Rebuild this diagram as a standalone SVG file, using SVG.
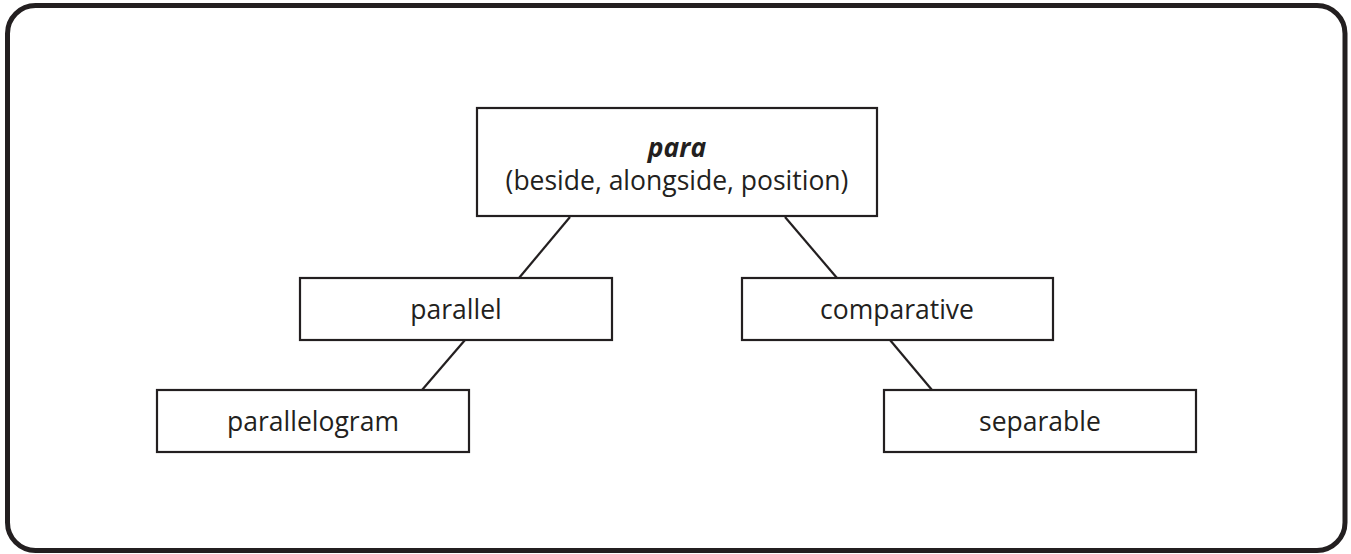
<svg xmlns="http://www.w3.org/2000/svg" width="1351" height="554" viewBox="0 0 1351 554">
<style>
.box{fill:#fff;stroke:#231f20;stroke-width:2.2}
.lbl{font-family:"Open Sans","Noto Sans",sans-serif;font-size:26.5px;fill:#231f20;text-anchor:middle}
.b{font-weight:bold;font-style:italic}
.conn line{stroke:#231f20;stroke-width:2.2}
</style>
<rect x="7.5" y="5.5" width="1337.5" height="545" rx="28" ry="28" fill="#fff" stroke="#231f20" stroke-width="5"/>
<g class="conn">
<line x1="570" y1="217" x2="519" y2="278"/>
<line x1="785" y1="217" x2="837" y2="278"/>
<line x1="465" y1="340" x2="422" y2="390"/>
<line x1="890" y1="340" x2="932" y2="390"/>
</g>
<g id="para"><rect class="box" x="477" y="108" width="400" height="108"/>
<text class="lbl b" x="677" y="157">para</text>
<text class="lbl" x="677" y="190">(beside, alongside, position)</text></g>
<g id="parallel"><rect class="box" x="300" y="278" width="312" height="62"/>
<text class="lbl" x="456" y="319">parallel</text></g>
<g id="comparative"><rect class="box" x="742" y="278" width="311" height="62"/>
<text class="lbl" x="897" y="319">comparative</text></g>
<g id="parallelogram"><rect class="box" x="157" y="390" width="312" height="62"/>
<text class="lbl" x="313" y="431">parallelogram</text></g>
<g id="separable"><rect class="box" x="884" y="390" width="312" height="62"/>
<text class="lbl" x="1040" y="431">separable</text></g>
</svg>
